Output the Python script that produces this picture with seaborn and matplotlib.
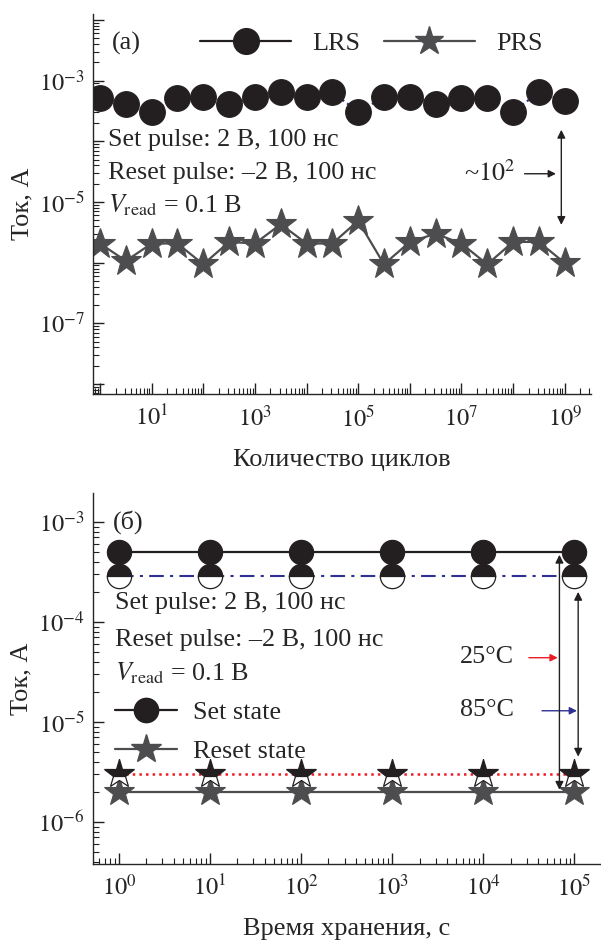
import numpy as np
import pandas as pd
import matplotlib
matplotlib.use("Agg")
import matplotlib.pyplot as plt
import seaborn as sns
from matplotlib.lines import Line2D
from matplotlib.ticker import FixedLocator, FuncFormatter, LogLocator, NullFormatter

# ---------------- data ----------------
cycles = [1, 3.16, 1e1, 3.16e1, 1e2, 3.16e2, 1e3, 3.16e3, 1e4, 3.16e4,
          1e5, 3.16e5, 1e6, 3.16e6, 1e7, 3.16e7, 1e8, 3.16e8, 1e9]
lrs = [5.2e-4, 4.1e-4, 3.1e-4, 5.2e-4, 5.4e-4, 4.1e-4, 5.3e-4, 6.4e-4, 5.3e-4, 6.4e-4,
       3.1e-4, 5.3e-4, 5.4e-4, 4.2e-4, 5.2e-4, 5.2e-4, 3.1e-4, 6.4e-4, 4.6e-4]
prs = [2.07e-6, 1.07e-6, 2.07e-6, 2.07e-6, 9.4e-7, 2.2e-6, 2.07e-6, 4.3e-6, 2.07e-6, 2.07e-6,
       4.9e-6, 9.4e-7, 2.2e-6, 3.0e-6, 2.07e-6, 9.4e-7, 2.2e-6, 2.2e-6, 9.9e-7]

ret_time = [1, 1e1, 1e2, 1e3, 1e4, 1e5]
set_25 = [5.0e-4, 5.0e-4, 5.0e-4, 5.0e-4, 5.0e-4, 5.0e-4]
set_85 = [2.9e-4, 2.9e-4, 2.9e-4, 2.9e-4, 2.9e-4, 2.9e-4]
reset_85 = [3.0e-6, 3.0e-6, 3.0e-6, 3.0e-6, 3.0e-6, 3.0e-6]
reset_25 = [2.0e-6, 2.0e-6, 2.0e-6, 2.0e-6, 2.0e-6, 2.0e-6]

top_xticks = [1e0, 1e1, 1e2, 1e3, 1e4, 1e5, 1e6, 1e7, 1e8, 1e9]
top_yticks = [1e-8, 1e-7, 1e-6, 1e-5, 1e-4, 1e-3, 1e-2]
bot_xticks = [1e0, 1e1, 1e2, 1e3, 1e4, 1e5]
bot_yticks = [1e-6, 1e-5, 1e-4, 1e-3]

df_top = pd.DataFrame({"cycles": cycles, "LRS": lrs, "PRS": prs})
df_bot = pd.DataFrame({"t": ret_time, "set25": set_25, "set85": set_85,
                       "reset85": reset_85, "reset25": reset_25})

# ---------------- style ----------------
sns.set_style("ticks")
plt.rcParams["font.family"] = ["Liberation Serif", "DejaVu Serif"]
plt.rcParams["mathtext.fontset"] = "stix"
plt.rcParams["axes.linewidth"] = 1.0

BLACK = "#231f20"
GRAY = "#4d4d4f"
NAVY = "#2e3192"
RED = "#ed1c24"
FS_TXT = 18.8
FS_LAB = 19
FS_TICK = 17.5

MS_C1 = 18.5
MS_S1 = 23
MS_C2 = 17.5
MS_S2 = 22

fig = plt.figure(figsize=(6.01, 9.43), dpi=100)
ax1 = fig.add_axes([0.1547, 0.582, 0.8283, 0.403])
ax2 = fig.add_axes([0.1547, 0.0838, 0.8433, 0.3934])


def pow_fmt(only_odd):
    def f(v, pos):
        if v <= 0:
            return ""
        e = int(round(np.log10(v)))
        if only_odd and e % 2 == 0:
            return ""
        return r"$10^{%d}$" % e
    return FuncFormatter(f)


def style_axis(ax):
    for s in ["top", "right"]:
        ax.spines[s].set_visible(False)
    ax.tick_params(which="major", direction="in", length=8, width=1,
                   labelsize=FS_TICK, color=BLACK)
    ax.tick_params(which="minor", direction="in", length=4, width=0.8, color=BLACK)
    ax.tick_params(axis="x", pad=8)
    ax.tick_params(axis="y", pad=6)


# ---------------- top panel ----------------
ax1.set_xscale("log")
ax1.set_yscale("log")
sns.lineplot(data=df_top, x="cycles", y="PRS", ax=ax1, estimator=None, sort=False,
             color=GRAY, lw=1.6, marker="*", markersize=MS_S1,
             markerfacecolor=GRAY, markeredgecolor=GRAY, markeredgewidth=0.8)
sns.lineplot(data=df_top, x="cycles", y="LRS", ax=ax1, estimator=None, sort=False,
             color=NAVY, lw=1.6, linestyle=":", marker="o", markersize=MS_C1,
             markerfacecolor=BLACK, markeredgecolor=BLACK, markeredgewidth=0.8)
ax1.set_xlim(0.73, 3.2e9)
ax1.set_ylim(6.8e-9, 1.25e-2)
ax1.xaxis.set_major_locator(FixedLocator(top_xticks))
ax1.xaxis.set_major_formatter(pow_fmt(True))
ax1.xaxis.set_minor_locator(LogLocator(base=10, subs=np.arange(2, 10), numticks=100))
ax1.xaxis.set_minor_formatter(NullFormatter())
ax1.yaxis.set_major_locator(FixedLocator(top_yticks))
ax1.yaxis.set_major_formatter(pow_fmt(True))
ax1.yaxis.set_minor_locator(LogLocator(base=10, subs=np.arange(2, 10), numticks=100))
ax1.yaxis.set_minor_formatter(NullFormatter())
style_axis(ax1)
ax1.set_xlabel("Количество циклов", fontsize=FS_LAB, labelpad=13)
ax1.set_ylabel("Ток, А", fontsize=FS_LAB, labelpad=4)

h1 = [Line2D([], [], color=BLACK, lw=1.6, marker="o", markersize=MS_C1,
             markerfacecolor=BLACK, markeredgecolor=BLACK),
      Line2D([], [], color=GRAY, lw=1.6, marker="*", markersize=MS_S1 - 2,
             markerfacecolor=GRAY, markeredgecolor=GRAY)]
ax1.legend(h1, ["LRS", "PRS"], ncol=2, frameon=False, fontsize=FS_TXT,
           loc="center left", bbox_to_anchor=(0.215, 0.924), borderaxespad=0,
           borderpad=0, handlelength=3.5, handletextpad=0.8, columnspacing=0.9)

ax1.text(0.038, 0.924, "(a)", transform=ax1.transAxes, fontsize=FS_TXT,
         ha="left", va="center")
ax1.text(0.030, 0.668, "Set pulse: 2 В, 100 нс", transform=ax1.transAxes,
         fontsize=FS_TXT, ha="left", va="center")
ax1.text(0.030, 0.582, "Reset pulse: –2 В, 100 нс", transform=ax1.transAxes,
         fontsize=FS_TXT, ha="left", va="center")
ax1.text(0.030, 0.497, r"$V_{\mathrm{read}}$ = 0.1 В", transform=ax1.transAxes,
         fontsize=FS_TXT, ha="left", va="center")
ax1.text(0.745, 0.582, r"~$10^2$", transform=ax1.transAxes,
         fontsize=FS_TXT, ha="left", va="center")
ax1.annotate("", xy=(0.930, 0.580), xytext=(0.867, 0.580), xycoords="axes fraction",
             arrowprops=dict(arrowstyle="-|>", color=BLACK, lw=1.0,
                             mutation_scale=11, shrinkA=0, shrinkB=0))
ax1.annotate("", xy=(8.6e8, 4.2e-6), xytext=(8.6e8, 1.55e-4), xycoords="data",
             arrowprops=dict(arrowstyle="<|-|>", color=BLACK, lw=1.0,
                             mutation_scale=12, shrinkA=0, shrinkB=0))

# ---------------- bottom panel ----------------
ax2.set_xscale("log")
ax2.set_yscale("log")
sns.lineplot(data=df_bot, x="t", y="reset25", ax=ax2, estimator=None, sort=False,
             color=GRAY, lw=1.6, marker="*", markersize=MS_S2,
             markerfacecolor=GRAY, markeredgecolor=GRAY, markeredgewidth=0.8)
sns.lineplot(data=df_bot, x="t", y="reset85", ax=ax2, estimator=None, sort=False,
             color=RED, lw=1.8, linestyle=":", marker="*", markersize=MS_S2,
             fillstyle="top", markerfacecolor=BLACK, markerfacecoloralt="white",
             markeredgecolor=BLACK, markeredgewidth=0.9)
sns.lineplot(data=df_bot, x="t", y="set85", ax=ax2, estimator=None, sort=False,
             color=NAVY, lw=1.5, dashes=False, linestyle=(0, (7, 3, 1.5, 3)),
             marker="o", markersize=MS_C2, fillstyle="top",
             markerfacecolor=BLACK, markerfacecoloralt="white",
             markeredgecolor=BLACK, markeredgewidth=0.9)
sns.lineplot(data=df_bot, x="t", y="set25", ax=ax2, estimator=None, sort=False,
             color=BLACK, lw=1.6, marker="o", markersize=MS_C2,
             markerfacecolor=BLACK, markeredgecolor=BLACK, markeredgewidth=0.8)
ax2.set_xlim(0.52, 1.9e5)
ax2.set_ylim(3.8e-7, 1.95e-3)
ax2.xaxis.set_major_locator(FixedLocator(bot_xticks))
ax2.xaxis.set_major_formatter(pow_fmt(False))
ax2.xaxis.set_minor_locator(LogLocator(base=10, subs=np.arange(2, 10), numticks=100))
ax2.xaxis.set_minor_formatter(NullFormatter())
ax2.yaxis.set_major_locator(FixedLocator(bot_yticks))
ax2.yaxis.set_major_formatter(pow_fmt(False))
ax2.yaxis.set_minor_locator(LogLocator(base=10, subs=np.arange(2, 10), numticks=100))
ax2.yaxis.set_minor_formatter(NullFormatter())
style_axis(ax2)
ax2.set_xlabel("Время хранения, с", fontsize=FS_LAB, labelpad=12)
ax2.set_ylabel("Ток, А", fontsize=FS_LAB, labelpad=4)

h2 = [Line2D([], [], color=BLACK, lw=1.6, marker="o", markersize=MS_C2,
             markerfacecolor=BLACK, markeredgecolor=BLACK),
      Line2D([], [], color=GRAY, lw=1.6, marker="*", markersize=MS_S2,
             markerfacecolor=GRAY, markeredgecolor=GRAY)]
ax2.legend(h2, ["Set state", "Reset state"], frameon=False, fontsize=FS_TXT,
           loc="center left", bbox_to_anchor=(0.043, 0.356), borderaxespad=0,
           borderpad=0, handlelength=2.4, handletextpad=0.6, labelspacing=0.6)

ax2.text(0.039, 0.922, "(б)", transform=ax2.transAxes, fontsize=FS_TXT,
         ha="left", va="center")
ax2.text(0.043, 0.704, "Set pulse: 2 В, 100 нс", transform=ax2.transAxes,
         fontsize=FS_TXT, ha="left", va="center")
ax2.text(0.043, 0.604, "Reset pulse: –2 В, 100 нс", transform=ax2.transAxes,
         fontsize=FS_TXT, ha="left", va="center")
ax2.text(0.043, 0.515, r"$V_{\mathrm{read}}$ = 0.1 В", transform=ax2.transAxes,
         fontsize=FS_TXT, ha="left", va="center")
ax2.text(0.724, 0.558, "25°C", transform=ax2.transAxes,
         fontsize=FS_TXT, ha="left", va="center")
ax2.text(0.724, 0.415, "85°C", transform=ax2.transAxes,
         fontsize=FS_TXT, ha="left", va="center")
ax2.annotate("", xy=(0.917, 0.556), xytext=(0.860, 0.556), xycoords="axes fraction",
             arrowprops=dict(arrowstyle="-|>", color=RED, lw=1.0,
                             mutation_scale=11, shrinkA=0, shrinkB=0))
ax2.annotate("", xy=(0.955, 0.413), xytext=(0.886, 0.413), xycoords="axes fraction",
             arrowprops=dict(arrowstyle="-|>", color=NAVY, lw=1.0,
                             mutation_scale=11, shrinkA=0, shrinkB=0))
ax2.annotate("", xy=(6.85e4, 2.1e-6), xytext=(6.85e4, 4.7e-4), xycoords="data",
             arrowprops=dict(arrowstyle="<|-|>", color=BLACK, lw=1.0,
                             mutation_scale=12, shrinkA=0, shrinkB=0))
ax2.annotate("", xy=(1.1e5, 4.5e-6), xytext=(1.1e5, 2.0e-4), xycoords="data",
             arrowprops=dict(arrowstyle="<|-|>", color=BLACK, lw=1.0,
                             mutation_scale=12, shrinkA=0, shrinkB=0))

fig.savefig("out.png", dpi=100)
